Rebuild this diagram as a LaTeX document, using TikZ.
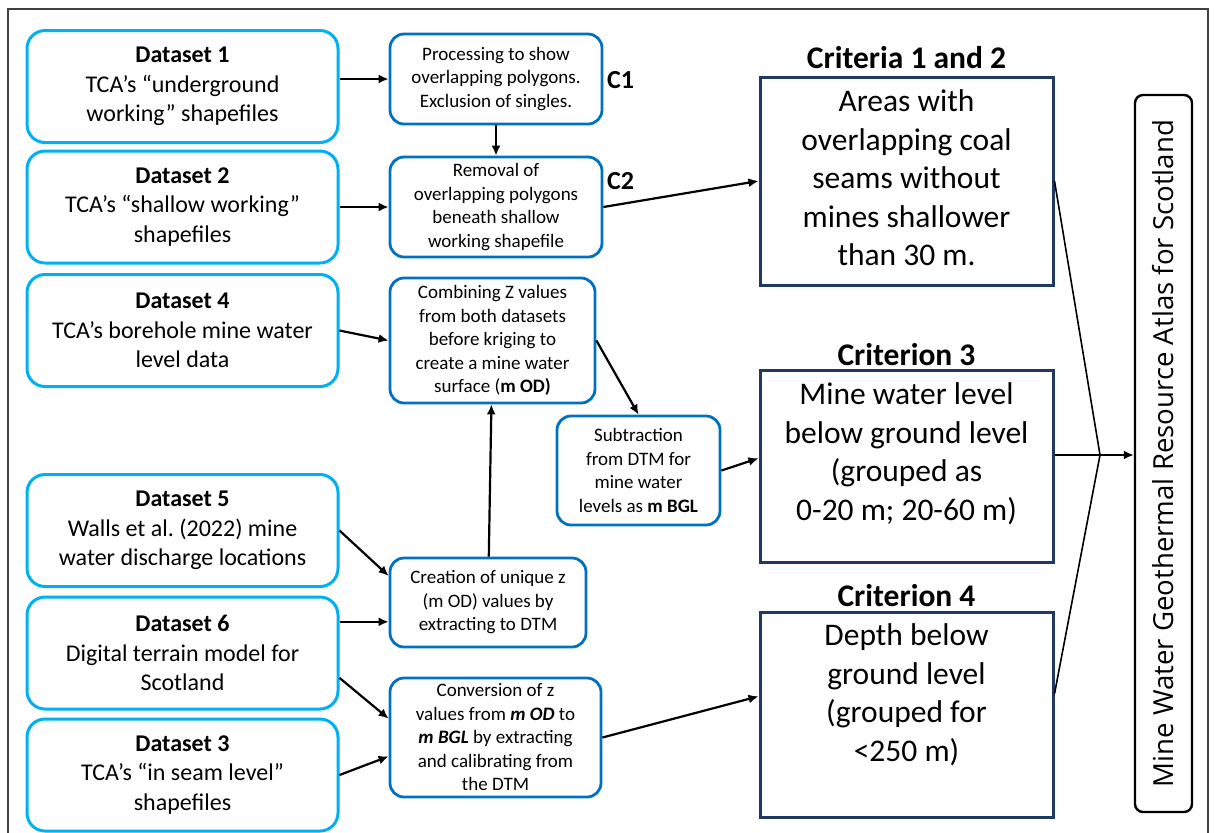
\documentclass[tikz,border=0pt]{standalone}
\usepackage{fontspec}
\setmainfont{Carlito}
\newfontfamily\atlasfont{Open Sans}
\usepackage{xcolor}
\usetikzlibrary{arrows.meta,positioning}
\definecolor{dataline}{RGB}{0,176,240}
\definecolor{procline}{RGB}{0,112,192}
\definecolor{critline}{RGB}{31,56,100}
\definecolor{framegray}{RGB}{64,64,64}
\frenchspacing

\begin{document}
\begin{tikzpicture}[
  x=0.5pt, y=-0.5pt,
  data/.style={draw=dataline, line width=1.5pt, rounded corners=9pt, minimum width=155.5pt, minimum height=56pt, align=center, inner sep=2pt, font=\fontsize{12}{14.75}\selectfont},
  proc/.style={draw=procline, line width=1.4pt, rounded corners=7pt, align=center, inner sep=1pt, font=\fontsize{9.5}{11.75}\selectfont},
  crit/.style={draw=critline, line width=1.5pt, minimum width=146.5pt},
  crittxt/.style={align=center, inner sep=0pt, font=\fontsize{15.75}{19.25}\selectfont},
  crithead/.style={font=\fontsize{15.75}{19.25}\selectfont\bfseries},
  ctag/.style={anchor=west, font=\fontsize{13}{15}\selectfont\bfseries},
  atlas/.style={draw, line width=1.2pt, rounded corners=4pt, rotate=90, minimum width=358.5pt, minimum height=28.5pt, font=\atlasfont\fontsize{13.8}{16}\selectfont},
  flow/.style={line width=1.1pt, -{Latex[length=5pt,width=4.5pt]}},
  merge/.style={line width=0.8pt}
]
\useasboundingbox (0,0) rectangle (1214,832);
\clip (0,0) rectangle (1214,832);
\draw[line width=1pt, draw=framegray] (8,9) rectangle (1208,860);

% Input datasets
\node[data] (d1) at (182.5,86.5) {\textbf{Dataset 1}\\TCA’s “underground\\working” shapefiles};
\node[data] (d2) at (182.5,207)  {\textbf{Dataset 2}\\TCA’s “shallow working”\\shapefiles};
\node[data] (d4) at (182.5,330.5) {\textbf{Dataset 4}\\TCA’s borehole mine water\\level data};
\node[data] (d5) at (182.5,530.5) {\textbf{Dataset 5}\\Walls et al. (2022) mine\\water discharge locations};
\node[data] (d6) at (182.5,653)  {\textbf{Dataset 6}\\Digital terrain model for\\Scotland};
\node[data] (d3) at (182.5,775)  {\textbf{Dataset 3}\\TCA’s “in seam level”\\shapefiles};

% Processing steps
\node[proc, minimum width=106pt, minimum height=45pt] (p1) at (496,79) {Processing to show\\overlapping polygons.\\Exclusion of singles.};
\node[proc, minimum width=106pt, minimum height=50pt] (p2) at (496,207) {Removal of\\overlapping polygons\\beneath shallow\\working shapefile};
\node[proc, minimum width=102.5pt, minimum height=62.5pt] (p3) at (492.5,340.5) {Combining Z values\\from both datasets\\before kriging to\\create a mine water\\surface (\textbf{m OD)}};
\node[proc, minimum width=81.5pt, minimum height=54.5pt] (p4) at (638.5,470.5) {Subtraction\\from DTM for\\mine water\\levels as \textbf{m BGL}};
\node[proc, minimum width=98pt, minimum height=44.5pt] (p5) at (488,602.5) {Creation of unique z\\(m OD) values by\\extracting to DTM};
\node[proc, minimum width=105.5pt, minimum height=59.5pt] (p6) at (495.5,737.5) {Conversion of z\\values from \textbf{\textit{m OD}} to\\\textbf{\textit{m BGL}} by extracting\\and calibrating from\\the DTM};
\node[ctag] (c1) at (600,80)  {C1};
\node[ctag] (c2) at (600,181) {C2};

% Criteria
\node[crithead] (h1) at (906.5,58)  {Criteria 1 and 2};
\node[crithead] (h3) at (906.5,355) {Criterion 3};
\node[crithead] (h4) at (906.5,596) {Criterion 4};
\node[crit, minimum height=104pt]   (crit1) at (906.5,181)   {};
\node[crit, minimum height=96pt]    (crit2) at (906.5,466)   {};
\node[crit, minimum height=102.5pt] (crit3) at (906.5,714.5) {};
\node[crittxt, below=7pt of crit1.north] (t1) {Areas with\\overlapping coal\\seams without\\mines shallower\\than 30 m.};
\node[crittxt, below=7pt of crit2.north] (t2) {Mine water level\\below ground level\\(grouped as\\0-20 m; 20-60 m)};
\node[crittxt, below=6.5pt of crit3.north] (t3) {Depth below\\ground level\\(grouped for\\<250 m)};

% Outcome
\node[atlas] (atlas) at (1163.5,453.5) {Mine Water Geothermal Resource Atlas for Scotland};

% Flows
\draw[flow] (d1.east |- p1.west) -- (p1.west);
\draw[flow] (p1) -- (p2);
\draw[flow] (d2) -- (p2);
\draw[flow] (p2.east) -- (crit1.west);
\draw[flow] (d4.east) -- (p3.west);
\draw[flow] (p3.east) -- (p4.north);
\draw[flow] (p5) -- (p3);
\draw[flow] (d5.east) -- (p5.165);
\draw[flow] (d6.east |- p5.191) -- (p5.191);
\draw[flow] (d6.-9) -- (p6.170);
\draw[flow] (d3.east) -- (p6.190);
\draw[flow] (p4.east) -- (crit2.177);
\draw[flow] (p6.east) -- (crit3.173);
\coordinate (join) at (1100,455);
\draw[merge] (crit1.east) -- (join);
\draw[merge] (crit2.east |- join) -- (join);
\draw[merge] (crit3.8) -- (join);
\draw[flow] (join) -- (atlas.north |- join);
\end{tikzpicture}
\end{document}
